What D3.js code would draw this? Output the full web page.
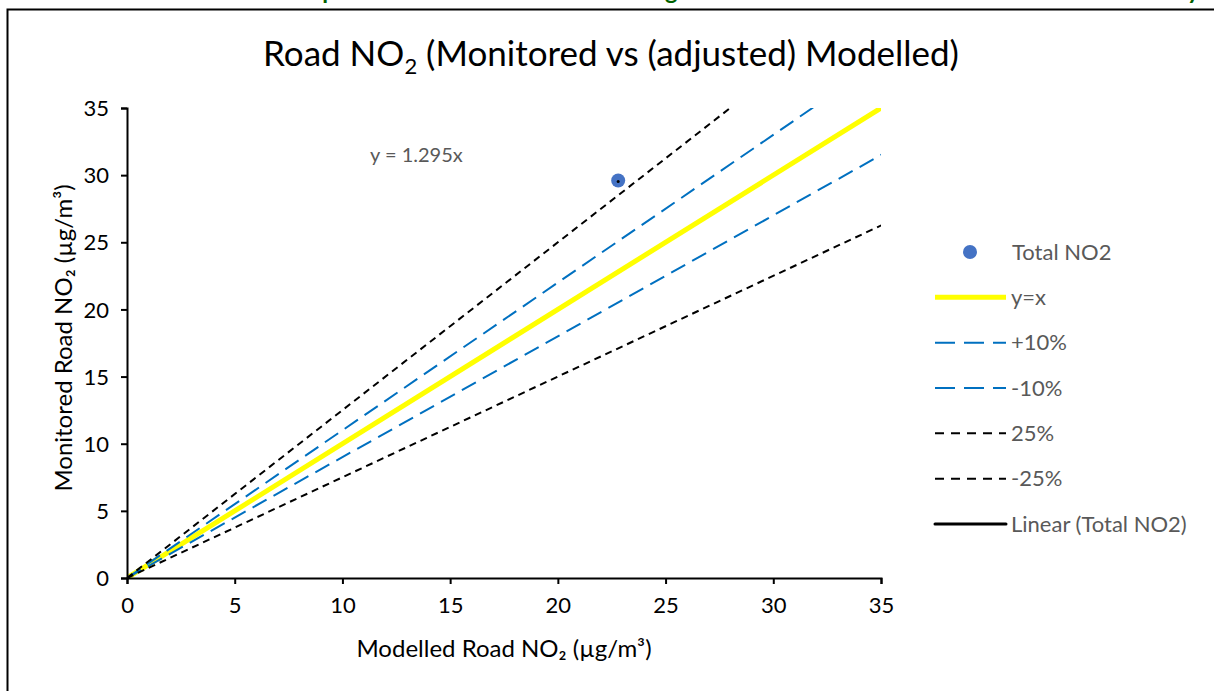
<!DOCTYPE html>
<html>
<head>
<meta charset="utf-8">
<script src="https://cdn.jsdelivr.net/npm/d3@7"></script>
<style>
  body { margin: 0; background: #fff; }
  svg { display: block; font-family: Lato, "Liberation Sans", sans-serif; }
</style>
</head>
<body>
<div id="chart"></div>
<script>
// DATA
const modelled = [22.8];
const monitored = [29.6];
const trendSlope = 1.295;
const refNames = ['y=x', '+10%', '-10%', '25%', '-25%'];
const refSlopes = [1, 1.1, 0.9, 1.25, 0.75];
const axisTicks = [0, 5, 10, 15, 20, 25, 30, 35];
const legendNames = ['Total NO2', 'y=x', '+10%', '-10%', '25%', '-25%', 'Linear (Total NO2)'];

// SETTINGS
const width = 1214, height = 691;
const plot = { left: 127, right: 881, top: 108, bottom: 578 };
const refStyles = [
  { color: '#FFFF00', width: 5, dash: null },
  { color: '#0070C0', width: 2, dash: '16,8' },
  { color: '#0070C0', width: 2, dash: '16,8' },
  { color: '#000000', width: 2, dash: '7,5' },
  { color: '#000000', width: 2, dash: '7,5' }
];

const svg = d3.select('#chart').append('svg')
  .attr('width', width)
  .attr('height', height);

// page heading above the chart box (only its descenders show)
svg.append('text')
  .attr('x', 182)
  .attr('y', -1)
  .attr('fill', '#006100')
  .attr('font-weight', 'bold')
  .attr('font-size', 23.6)
  .text('Chart A: Comparison of Modelled Road NO2 against the Monitored Road NO2 Data for the Study');

// chart border
svg.append('rect')
  .attr('x', 7.5).attr('y', 9.5)
  .attr('width', width).attr('height', height)
  .attr('fill', 'none')
  .attr('stroke', '#000')
  .attr('stroke-width', 2);

const x = d3.scaleLinear().domain([0, 35]).range([plot.left, plot.right]);
const y = d3.scaleLinear().domain([0, 35]).range([plot.bottom, plot.top]);

// title
const title = svg.append('text')
  .attr('x', 611).attr('y', 66)
  .attr('text-anchor', 'middle')
  .attr('font-size', 35)
  .attr('fill', '#000');
title.append('tspan').text('Road NO');
title.append('tspan').attr('font-size', 22).attr('dy', 8).text('2');
title.append('tspan').attr('dy', -8).text(' (Monitored vs (adjusted) Modelled)');

// clip
svg.append('defs').append('clipPath').attr('id', 'plotClip')
  .append('rect')
  .attr('x', plot.left).attr('y', plot.top)
  .attr('width', plot.right - plot.left).attr('height', plot.bottom - plot.top);

const lineGen = d3.line().x(d => x(d[0])).y(d => y(d[1]));
const refLayer = svg.append('g').attr('clip-path', 'url(#plotClip)');

refNames.forEach((name, i) => {
  const pts = [[0, 0], [40, 40 * refSlopes[i]]];
  refLayer.append('path')
    .attr('d', lineGen(pts))
    .attr('fill', 'none')
    .attr('stroke', refStyles[i].color)
    .attr('stroke-width', refStyles[i].width)
    .attr('stroke-dasharray', refStyles[i].dash);
});

// axes
const xAxis = svg.append('g')
  .attr('transform', `translate(0,${plot.bottom})`)
  .call(d3.axisBottom(x).tickValues(axisTicks).tickSize(6).tickPadding(10));
const yAxis = svg.append('g')
  .attr('transform', `translate(${plot.left},0)`)
  .call(d3.axisLeft(y).tickValues(axisTicks).tickSize(6).tickPadding(12));
[xAxis, yAxis].forEach(a => {
  a.select('.domain').attr('stroke', '#000').attr('stroke-width', 2);
  a.selectAll('.tick line').attr('stroke', '#000').attr('stroke-width', 2);
  a.selectAll('.tick text').attr('font-size', 22).attr('fill', '#000')
    .attr('font-family', 'Lato, sans-serif');
});
xAxis.selectAll('.tick text').attr('dy', '0.85em');
yAxis.selectAll('.tick text').attr('dy', '0.35em');

// axis labels
svg.append('text')
  .attr('x', 504).attr('y', 657)
  .attr('text-anchor', 'middle')
  .attr('font-size', 24)
  .text('Modelled Road NO\u2082 (\u00b5g/m\u00b3)');
svg.append('text')
  .attr('transform', 'translate(72,338) rotate(-90)')
  .attr('text-anchor', 'middle')
  .attr('font-size', 24)
  .text('Monitored Road NO\u2082 (\u00b5g/m\u00b3)');

// points
svg.append('g').selectAll('circle')
  .data(modelled.map((d, i) => [d, monitored[i]]))
  .join('circle')
  .attr('cx', d => x(d[0]))
  .attr('cy', d => y(d[1]))
  .attr('r', 7)
  .attr('fill', '#4472C4');

// trendline (spans data x range only)
const xr = d3.extent(modelled);
svg.append('path')
  .attr('d', lineGen([[xr[0], xr[0] * trendSlope], [xr[1], xr[1] * trendSlope]]))
  .attr('fill', 'none')
  .attr('stroke', '#000')
  .attr('stroke-width', 3)
  .attr('stroke-linecap', 'round');

// trend equation
svg.append('text')
  .attr('x', 370).attr('y', 162)
  .attr('font-size', 20)
  .attr('fill', '#595959')
  .text(`y = ${trendSlope}x`);

// legend
const legend = svg.append('g');
const legX0 = 935, legX1 = 1006, legTextX = 1011;
const legY = d3.scalePoint().domain(legendNames).range([252, 524]);
legendNames.forEach((name, i) => {
  const cy = legY(name);
  if (i === 0) {
    legend.append('circle').attr('cx', 970).attr('cy', cy).attr('r', 7).attr('fill', '#4472C4');
  } else if (i <= refNames.length) {
    const s = refStyles[i - 1];
    legend.append('line')
      .attr('x1', legX0).attr('x2', legX1).attr('y1', cy).attr('y2', cy)
      .attr('stroke', s.color)
      .attr('stroke-width', s.width)
      .attr('stroke-dasharray', s.dash ? (i <= 3 ? '20,9' : '9,7') : null);
  } else {
    legend.append('line')
      .attr('x1', legX0).attr('x2', legX1).attr('y1', cy).attr('y2', cy)
      .attr('stroke', '#000').attr('stroke-width', 3).attr('stroke-linecap', 'round');
  }
  legend.append('text')
    .attr('x', i === 0 ? 1012 : legTextX).attr('y', cy)
    .attr('dy', '0.35em')
    .attr('font-size', 22)
    .attr('fill', '#595959')
    .text(name);
});
</script>
</body>
</html>
